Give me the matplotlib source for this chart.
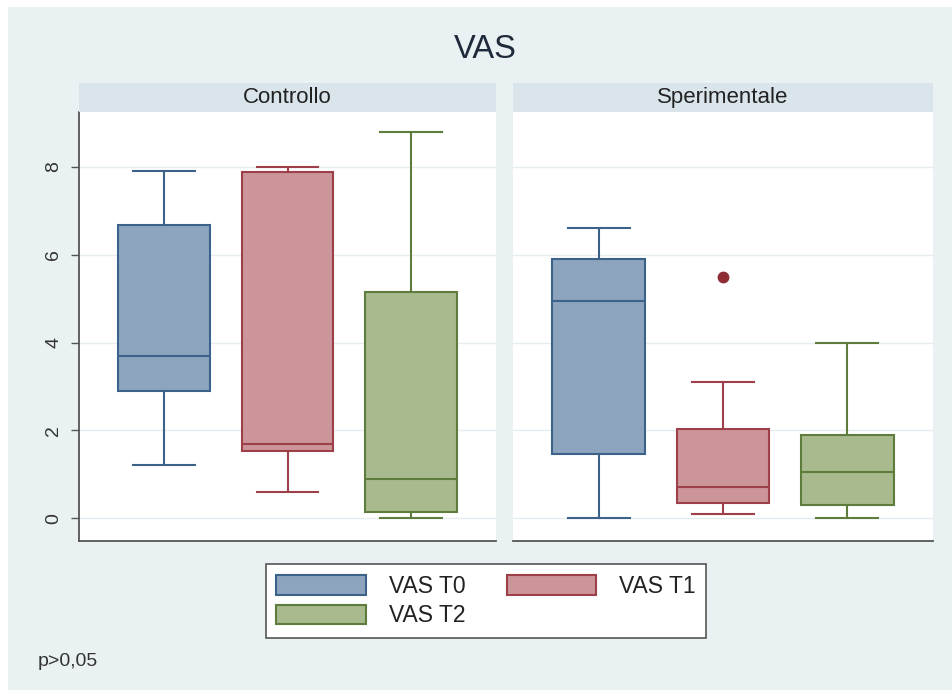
import matplotlib
matplotlib.use("Agg")
import matplotlib.pyplot as plt
from matplotlib.patches import Rectangle, Patch

plt.rcParams["font.family"] = ["Liberation Sans", "DejaVu Sans"]

# dati (min, q1, mediana, q3, max, outlier)
panels = ["Controllo", "Sperimentale"]
series = ["VAS T0", "VAS T1", "VAS T2"]
whislo = {"Controllo": [1.2, 0.6, 0.0], "Sperimentale": [0.0, 0.1, 0.0]}
q1 = {"Controllo": [2.9, 1.52, 0.15], "Sperimentale": [1.45, 0.35, 0.3]}
med = {"Controllo": [3.7, 1.7, 0.9], "Sperimentale": [4.95, 0.7, 1.05]}
q3 = {"Controllo": [6.68, 7.88, 5.14], "Sperimentale": [5.9, 2.02, 1.89]}
whishi = {"Controllo": [7.9, 8.0, 8.8], "Sperimentale": [6.6, 3.1, 4.0]}
fliers = {"Controllo": [[], [], []], "Sperimentale": [[], [5.5], []]}

face = ["#8DA4BF", "#CB959A", "#A8BA8E"]
edge = ["#3D6289", "#9E404A", "#5E7C3C"]
flier_col = "#8F2D35"
bg = "#EAF1F3"
strip_col = "#D9E5EA"

W, H = 952, 696
fig = plt.figure(figsize=(W / 100, H / 100), dpi=100)
fig.patch.set_facecolor("white")
fig.add_artist(Rectangle((8 / W, 6 / H), 1 - 8 / W, (690 - 7) / H,
                         transform=fig.transFigure, facecolor=bg,
                         edgecolor="none", zorder=-5))

fig.text(485 / W, 1 - 50 / H, "VAS", ha="center", va="center",
         fontsize=23.5, color="#1f2a3a")

boxes_x = [(79, 496), (513, 933)]
top, bottom = 112, 541
for i, name in enumerate(panels):
    x0, x1 = boxes_x[i]
    ax = fig.add_axes([x0 / W, 1 - bottom / H, (x1 - x0) / W, (bottom - top) / H])
    ax.set_facecolor("white")
    for j in range(3):
        st = dict(med=med[name][j], q1=q1[name][j], q3=q3[name][j],
                  whislo=whislo[name][j], whishi=whishi[name][j],
                  fliers=fliers[name][j])
        ax.bxp([st], positions=[j + 1], widths=0.745, capwidths=0.5,
               patch_artist=True, showfliers=True,
               boxprops=dict(facecolor=face[j], edgecolor=edge[j], linewidth=1.5),
               medianprops=dict(color=edge[j], linewidth=1.5),
               whiskerprops=dict(color=edge[j], linewidth=1.5),
               capprops=dict(color=edge[j], linewidth=1.5),
               flierprops=dict(marker="o", markerfacecolor=flier_col,
                               markeredgecolor=flier_col, markersize=7.5))
    ax.set_xlim(0.31, 3.69)
    ax.set_ylim(-0.52, 9.25)
    ax.set_yticks([0, 2, 4, 6, 8])
    ax.set_xticks([])
    ax.grid(axis="y", color="#E6EDF0", linewidth=1.0)
    ax.set_axisbelow(True)
    for s in ["top", "right"]:
        ax.spines[s].set_visible(False)
    ax.spines["bottom"].set_color("#555555")
    ax.spines["bottom"].set_linewidth(1.3)
    if i == 0:
        ax.spines["left"].set_color("#555555")
        ax.spines["left"].set_linewidth(1.3)
        ax.tick_params(axis="y", length=6, width=1.0, color="#555555",
                       labelsize=14, labelcolor="#333333", pad=6)
        for lab in ax.get_yticklabels():
            lab.set_rotation(90)
            lab.set_va("center")
    else:
        ax.spines["left"].set_visible(False)
        ax.tick_params(axis="y", left=False, labelleft=False)

    # striscia col nome del gruppo
    sx = fig.add_axes([x0 / W, 1 - top / H, (x1 - x0) / W, 29 / H])
    sx.set_facecolor(strip_col)
    sx.set_xticks([])
    sx.set_yticks([])
    for s in sx.spines.values():
        s.set_visible(False)
    sx.text(0.5, 0.5, name, ha="center", va="center", fontsize=16,
            color="#222222", transform=sx.transAxes)

handles = [Patch(facecolor=face[j], edgecolor=edge[j], linewidth=1.5, label=series[j])
           for j in range(3)]
# ordine per righe: T0 T1 / T2
order = [0, 2, 1]
leg = fig.legend(handles=[handles[k] for k in order], ncol=2, loc="center",
                 bbox_to_anchor=(486 / W, 1 - 601 / H), fontsize=16.5,
                 frameon=True, fancybox=False, edgecolor="#555555",
                 framealpha=1.0, facecolor="white",
                 handlelength=3.9, handleheight=0.95, handletextpad=1.0,
                 columnspacing=1.8, borderpad=0.45, labelspacing=0.3)
leg.get_frame().set_linewidth(1.2)
for t in leg.get_texts():
    t.set_color("#222222")

fig.text(38 / W, 1 - 662 / H, "p>0,05", ha="left", va="center",
         fontsize=14, color="#333333")

fig.savefig("out.png", dpi=100, facecolor=fig.get_facecolor())
